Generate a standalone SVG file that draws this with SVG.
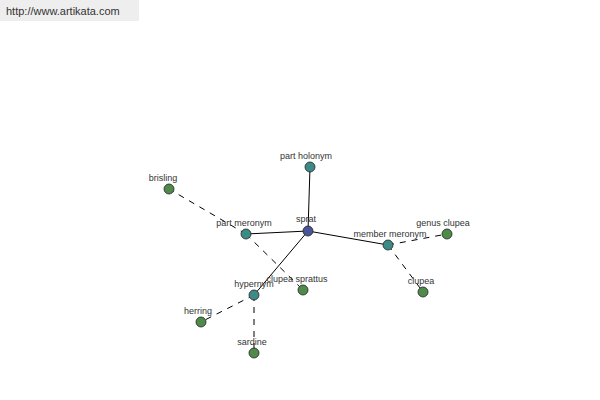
<svg xmlns="http://www.w3.org/2000/svg" width="600" height="400" viewBox="0 0 600 400">
<style>
.bg{fill:#ffffff}
.hdr{fill:#eeeeee}
.hdrt{font-family:"Liberation Sans",Arial,sans-serif;font-size:11px;fill:#333333}
.lbl{font-family:"Liberation Sans",Arial,sans-serif;font-size:9px;fill:#333333;text-anchor:middle}
.solid{stroke:#000000;stroke-width:1;fill:none}
.dash{stroke:#000000;stroke-width:1;fill:none;stroke-dasharray:6,6}
.n{stroke:#222222;stroke-width:0.8}
.root{fill:#4a5599}
.mid{fill:#3d8b87}
.leaf{fill:#4f8a4a}
</style>
<rect class="bg" x="0" y="0" width="600" height="400"/>
<rect class="hdr" x="0" y="0" width="139" height="21"/>
<text class="hdrt" x="6" y="15">http://www.artikata.com</text>
<g id="connectors">
<line class="solid" x1="308" y1="231" x2="310" y2="167"/>
<line class="solid" x1="308" y1="231" x2="246" y2="234"/>
<line class="solid" x1="308" y1="231" x2="388" y2="245"/>
<line class="solid" x1="308" y1="231" x2="254" y2="295"/>
<line class="dash" x1="246" y1="234" x2="169" y2="189"/>
<line class="dash" x1="246" y1="234" x2="303" y2="290"/>
<line class="dash" x1="388" y1="245" x2="447" y2="234"/>
<line class="dash" x1="388" y1="245" x2="423" y2="292"/>
<line class="dash" x1="254" y1="295" x2="201" y2="322"/>
<line class="dash" x1="254" y1="295" x2="254" y2="353"/>
</g>
<g id="part-holonym"><circle class="n mid" cx="310" cy="167" r="5"/><text class="lbl" x="306" y="159">part holonym</text></g>
<g id="brisling"><circle class="n leaf" cx="169" cy="189" r="5"/><text class="lbl" x="163" y="181">brisling</text></g>
<g id="part-meronym"><circle class="n mid" cx="246" cy="234" r="5"/><text class="lbl" x="244" y="226">part meronym</text></g>
<g id="member-meronym"><circle class="n mid" cx="388" cy="245" r="5"/><text class="lbl" x="390" y="237">member meronym</text></g>
<g id="genus-clupea"><circle class="n leaf" cx="447" cy="234" r="5"/><text class="lbl" x="443" y="226">genus clupea</text></g>
<g id="clupea"><circle class="n leaf" cx="423" cy="292" r="5"/><text class="lbl" x="421" y="284">clupea</text></g>
<g id="hypernym"><circle class="n mid" cx="254" cy="295" r="5"/><text class="lbl" x="254" y="287">hypernym</text></g>
<g id="clupea-sprattus"><circle class="n leaf" cx="303" cy="290" r="5"/><text class="lbl" x="297" y="282">clupea sprattus</text></g>
<g id="herring"><circle class="n leaf" cx="201" cy="322" r="5"/><text class="lbl" x="198" y="314">herring</text></g>
<g id="sardine"><circle class="n leaf" cx="254" cy="353" r="5"/><text class="lbl" x="252" y="345">sardine</text></g>
<g id="sprat"><circle class="n root" cx="308" cy="231" r="5"/><text class="lbl" x="306" y="222">sprat</text></g>
</svg>
